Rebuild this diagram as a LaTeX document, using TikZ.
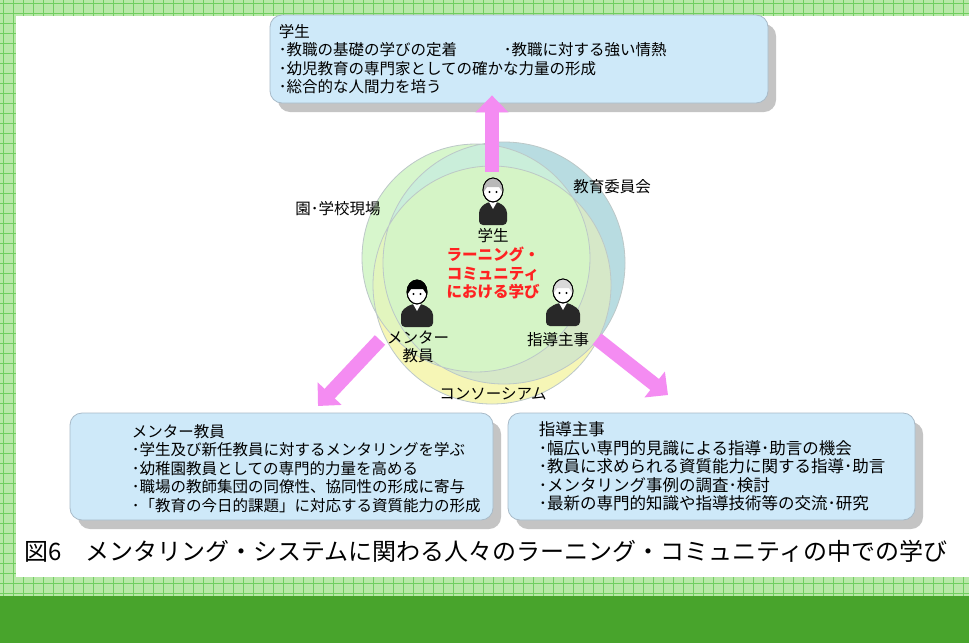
\documentclass[tikz,border=0pt]{standalone}
\usepackage{fontspec}
\setmainfont{Noto Sans CJK JP}
\usetikzlibrary{arrows.meta, positioning, shadows}

\definecolor{gridband}{RGB}{184,232,168}
\definecolor{gridline}{RGB}{112,206,96}
\definecolor{deepgreen}{RGB}{72,164,44}
\definecolor{boxblue}{RGB}{206,233,249}
\definecolor{boxedge}{RGB}{168,186,200}
\definecolor{shadowgray}{RGB}{196,196,196}
\definecolor{arrowpink}{RGB}{244,140,242}
\definecolor{titlered}{RGB}{255,34,34}
\definecolor{gfill}{RGB}{215,246,204}
\definecolor{bfill}{RGB}{184,220,225}
\definecolor{yfill}{RGB}{246,246,182}
\definecolor{gbfill}{RGB}{202,238,218}
\definecolor{gyfill}{RGB}{226,245,190}
\definecolor{byfill}{RGB}{214,232,200}
\definecolor{allfill}{RGB}{213,244,198}
\definecolor{ringedge}{RGB}{188,200,200}
\definecolor{persondark}{RGB}{40,40,40}

\begin{document}
\begin{tikzpicture}[x=1pt, y=-1pt,
    infobox/.style={draw=boxedge, line width=0.8pt, fill=boxblue, rounded corners=12pt,
      drop shadow={shadow xshift=8pt, shadow yshift=-9pt, fill=shadowgray, opacity=1}},
    boxtext/.style={align=left, inner sep=0pt, font=\fontsize{15.5}{18.5}\selectfont},
    ringlabel/.style={inner sep=0pt, font=\fontsize{15.5}{18}\selectfont},
    bigarrow/.style={line width=14pt, draw=arrowpink, -{Triangle[width=32pt, length=17pt]}}]
  \useasboundingbox (0,0) rectangle (969,643);

  % backdrop
  \fill[gridband] (0,0) rectangle (969,596);
  \foreach \gx in {3,13,...,963} \draw[gridline, line width=0.9pt] (\gx,0) -- (\gx,596);
  \foreach \gy in {3,13,...,593} \draw[gridline, line width=0.9pt] (0,\gy) -- (969,\gy);
  \fill[white] (16,16) rectangle (969,577);
  \fill[deepgreen] (0,596) rectangle (969,643);

  % boxes
  \node[infobox, minimum width=498pt, minimum height=88pt] (studentbox) at (519,59) {};
  \node[infobox, minimum width=423pt, minimum height=107pt] (mentorbox) at (281.5,466.5) {};
  \node[infobox, minimum width=407pt, minimum height=107pt] (supervisorbox) at (711.5,466.5) {};

  \node[boxtext, anchor=west] (studenttext) at ([xshift=9pt]studentbox.west)
    {学生\\\makebox[225pt][l]{･教職の基礎の学びの定着}･教職に対する強い情熱\\･幼児教育の専門家としての確かな力量の形成\\･総合的な人間力を培う};
  \node[boxtext, anchor=west] (mentortext) at ([xshift=62pt, yshift=-2pt]mentorbox.west)
    {メンター教員\\･学生及び新任教員に対するメンタリングを学ぶ\\･幼稚園教員としての専門的力量を高める\\･職場の教師集団の同僚性、協同性の形成に寄与\\･「教育の今日的課題」に対応する資質能力の形成};
  \node[boxtext, anchor=west, font=\fontsize{16.5}{18.5}\selectfont] (supervisortext) at ([xshift=31pt]supervisorbox.west)
    {指導主事\\･幅広い専門的見識による指導･助言の機会\\･教員に求められる資質能力に関する指導･助言\\･メンタリング事例の調査･検討\\･最新の専門的知識や指導技術等の交流･研究};

  % circles
  \fill[gfill] (476,258) circle (114);
  \fill[bfill] (504,263) circle (121);
  \fill[yfill] (492,285) circle (119);
  \begin{scope}
    \clip (476,258) circle (114);
    \fill[gbfill] (504,263) circle (121);
    \fill[gyfill] (492,285) circle (119);
  \end{scope}
  \begin{scope}
    \clip (504,263) circle (121);
    \fill[byfill] (492,285) circle (119);
  \end{scope}
  \begin{scope}
    \clip (476,258) circle (114);
    \clip (504,263) circle (121);
    \fill[allfill] (492,285) circle (119);
  \end{scope}
  \draw[ringedge, line width=0.8pt] (476,258) circle (114) (504,263) circle (121) (492,285) circle (119);

  % arrows
  \coordinate (upfoot) at (492,172);
  \coordinate (mentorfoot) at (380,340);
  \coordinate (mentortip) at (318,406);
  \coordinate (supervisorfoot) at (597,339);
  \coordinate (supervisortip) at (668,395);
  \draw[bigarrow, shorten >=-8pt] (upfoot) -- (upfoot |- studentbox.south);
  \draw[bigarrow] (mentorfoot) -- (mentortip);
  \draw[bigarrow] (supervisorfoot) -- (supervisortip);

  % people
  \foreach \px/\py/\pw/\hair in {493/190/14/gray!55, 417/292/16/black, 563/291/17/gray!30}{
    \fill[persondark, rounded corners=4pt] (\px-\pw,\py+35) -- (\px-\pw,\py+19) -- (\px-6,\py+12)
      -- (\px+6,\py+12) -- (\px+\pw,\py+19) -- (\px+\pw,\py+35) -- cycle;
    \fill[white] (\px-4,\py+12) -- (\px,\py+19) -- (\px+4,\py+12) -- cycle;
    \filldraw[fill=white, draw=black, line width=0.9pt] (\px,\py) ellipse (10 and 12);
    \fill[\hair] (\px-10,\py+3) -- (\px-10,\py) arc[start angle=180, end angle=360, x radius=10, y radius=12]
      -- (\px+10,\py+3) -- (\px+6,\py-3) -- (\px-6,\py-3) -- cycle;
    \draw[black, line width=0.9pt] (\px,\py) ellipse (10 and 12);
    \fill[black] (\px-3.5,\py+2) circle (1.1) (\px+3.5,\py+2) circle (1.1);
  }

  % labels
  \node[ringlabel] (fieldlabel) at (338,209) {園･学校現場};
  \node[ringlabel] (boardlabel) at (612,187) {教育委員会};
  \node[ringlabel] (consortiumlabel) at (493,394) {コンソーシアム};
  \node[ringlabel] (studentlabel) at (493,236) {学生};
  \node[ringlabel, align=center, text=titlered, font=\bfseries\fontsize{15.5}{18.5}\selectfont] (titlelabel) at (493,273)
    {ラーニング・\\コミュニティ\\における学び};
  \node[ringlabel, align=center] (mentorlabel) at (418,347) {メンター\\教員};
  \node[ringlabel] (supervisorlabel) at (558,340) {指導主事};

  \node[anchor=west, inner sep=0pt, font=\fontsize{24}{26}\selectfont] (caption) at (24,551)
    {図6　メンタリング・システムに関わる人々のラーニング・コミュニティの中での学び};
\end{tikzpicture}
\end{document}
